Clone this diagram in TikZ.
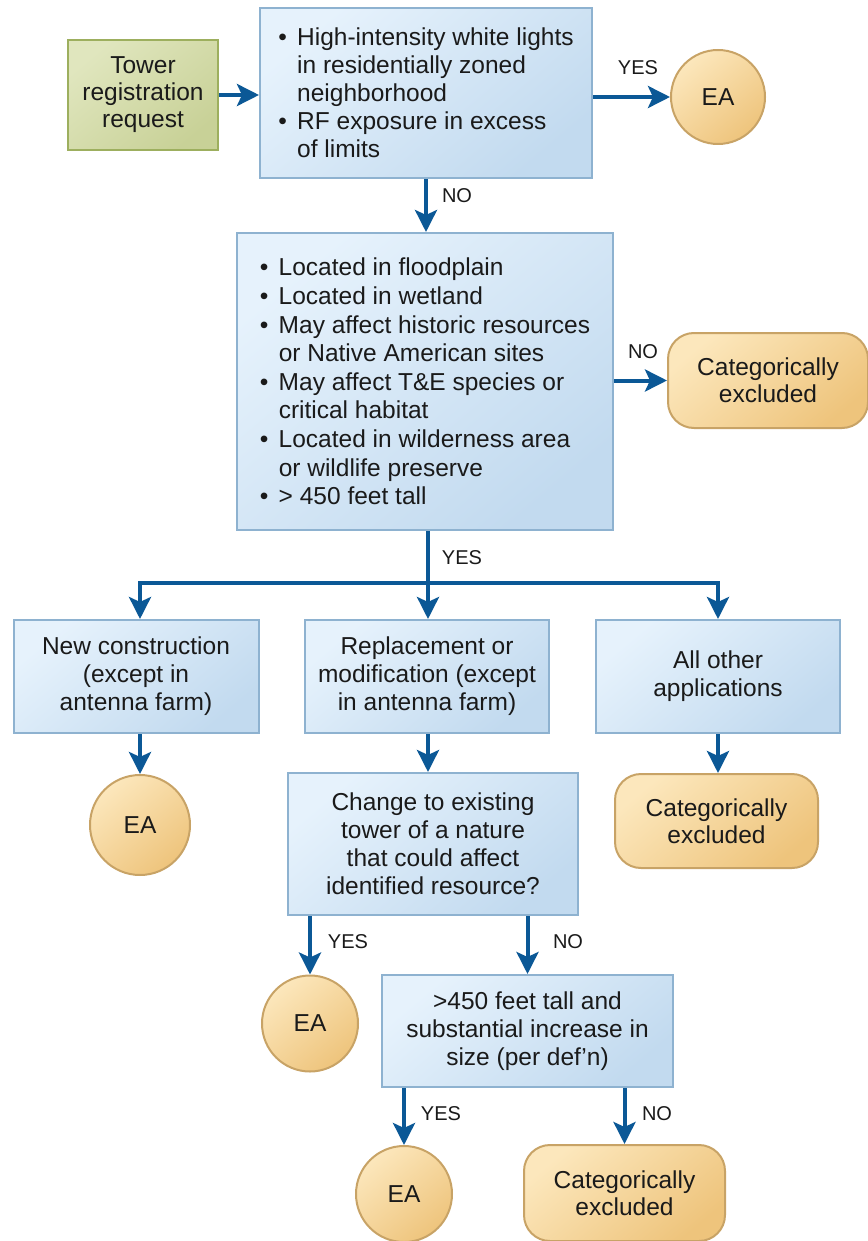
\documentclass[tikz,border=0pt]{standalone}
\usepackage{fontspec}
\setmainfont{Liberation Sans}
\usetikzlibrary{arrows.meta,shapes.geometric}
\definecolor{arrowblue}{HTML}{0B5896}
\definecolor{bluelight}{HTML}{E6F2FC}
\definecolor{bluedark}{HTML}{C2DAEF}
\definecolor{blueedge}{HTML}{8EB2D0}
\definecolor{greenlight}{HTML}{E0E6BE}
\definecolor{greendark}{HTML}{C8D197}
\definecolor{greenedge}{HTML}{9DAF5E}
\definecolor{orangelight}{HTML}{FCE7BC}
\definecolor{orangedark}{HTML}{EEC47C}
\definecolor{orangeedge}{HTML}{C8A366}
\definecolor{txt}{HTML}{1A1A1A}
\tikzset{
  every node/.style={text=txt},
  bluebox/.style={rectangle, draw=blueedge, line width=2pt, top color=bluelight, bottom color=bluedark, shading angle=40, align=center, inner sep=0pt, font=\fontsize{24.5}{28}\selectfont},
  greenbox/.style={rectangle, draw=greenedge, line width=2pt, top color=greenlight, bottom color=greendark, shading angle=40, align=center, inner sep=0pt, font=\fontsize{24.5}{27}\selectfont},
  eacirc/.style={circle, draw=orangeedge, line width=2pt, top color=orangelight, bottom color=orangedark, shading angle=40, inner sep=0pt, font=\fontsize{24.5}{28}\selectfont},
  catbox/.style={rectangle, rounded corners=26pt, draw=orangeedge, line width=2pt, top color=orangelight, bottom color=orangedark, shading angle=40, align=center, inner sep=0pt, font=\fontsize{24.5}{27}\selectfont},
  arr/.style={draw=arrowblue, line width=4pt, -{Stealth[length=22pt,width=22pt,inset=5pt]}},
  plainline/.style={draw=arrowblue, line width=4pt},
  lbl/.style={font=\fontsize{20}{22}\selectfont, inner sep=0pt},
}
\newcommand{\bul}{\textbullet\hspace{0.42em}}
\newcommand{\nob}{\hphantom{\textbullet\hspace{0.42em}}}
\begin{document}
\begin{tikzpicture}[x=1pt,y=-1pt]
\useasboundingbox (0,0) rectangle (867,1241);
% nodes
\node[greenbox, minimum width=150, minimum height=110] (tower) at (143,95) {Tower\\registration\\request};
\node[bluebox, minimum width=332, minimum height=170, align=left] (b1) at (426,93) {\bul High-intensity white lights\\\nob in residentially zoned\\\nob neighborhood\\\bul RF exposure in excess\\\nob of limits};
\node[eacirc, minimum size=94] (ea1) at (718,97) {EA};
\node[bluebox, minimum width=376, minimum height=297, align=left, font=\fontsize{24.5}{28.6}\selectfont] (b2) at (425,381.5) {\bul Located in floodplain\\\bul Located in wetland\\\bul May affect historic resources\\\nob or Native American sites\\\bul May affect T\&E species or\\\nob critical habitat\\\bul Located in wilderness area\\\nob or wildlife preserve\\\bul > 450 feet tall};
\node[catbox, minimum width=200, minimum height=95] (cat1) at (768,380.5) {Categorically\\excluded};
\node[bluebox, minimum width=245, minimum height=113] (b3a) at (136,676.5) {New construction\\(except in\\antenna farm)};
\node[bluebox, minimum width=244, minimum height=113] (b3b) at (427,676.5) {Replacement or\\modification (except\\in antenna farm)};
\node[bluebox, minimum width=244, minimum height=113] (b3c) at (718,676.5) {All other\\applications};
\node[eacirc, minimum size=100] (ea2) at (140,825) {EA};
\node[catbox, minimum width=203, minimum height=94] (cat2) at (716.5,821) {Categorically\\excluded};
\node[bluebox, minimum width=290, minimum height=142] (b4) at (433,844) {Change to existing\\tower of a nature\\that could affect\\identified resource?};
\node[eacirc, minimum size=96] (ea3) at (310,1023.5) {EA};
\node[bluebox, minimum width=291, minimum height=112] (b5) at (527.5,1031) {>450 feet tall and\\substantial increase in\\size (per def’n)};
\node[eacirc, minimum size=96] (ea4) at (404,1194) {EA};
\node[catbox, minimum width=201, minimum height=96] (cat3) at (624.5,1193) {Categorically\\excluded};
% connectors
\draw[arr] (tower.east) -- (tower.east -| b1.west);
\draw[arr] (b1.east |- ea1.west) -- (ea1.west);
\draw[arr] (b1.south) -- (b1.south |- b2.north);
\draw[arr] (b2.east |- cat1.west) -- (cat1.west);
\coordinate (split) at (428,583);
\coordinate (lft) at (140,583);
\draw[plainline] ([xshift=-2pt]lft) -- ([xshift=2pt]split -| b3c.north);
\draw[arr] (split |- b2.south) -- (split |- b3b.north);
\draw[arr] (lft) -- (lft |- b3a.north);
\draw[arr] (split -| b3c.north) -- (b3c.north);
\draw[arr] (b3a.south -| ea2.north) -- (ea2.north);
\draw[arr] (split |- b3b.south) -- (split |- b4.north);
\draw[arr] (b3c.south) -- (b3c.south |- cat2.north);
\draw[arr] (b4.south -| ea3.north) -- (ea3.north);
\draw[arr] (b4.south -| b5.north) -- (b5.north);
\draw[arr] (b5.south -| ea4.north) -- (ea4.north);
\draw[arr] (b5.south -| cat3.north) -- (cat3.north);
% labels
\node[lbl] (l1) at (638,68) {YES};
\node[lbl] (l2) at (457,196) {NO};
\node[lbl] (l3) at (643,352) {NO};
\node[lbl] (l4) at (462,558) {YES};
\node[lbl] (l5) at (348,942) {YES};
\node[lbl] (l6) at (568,942) {NO};
\node[lbl] (l7) at (441,1114) {YES};
\node[lbl] (l8) at (657,1114) {NO};
\end{tikzpicture}
\end{document}
